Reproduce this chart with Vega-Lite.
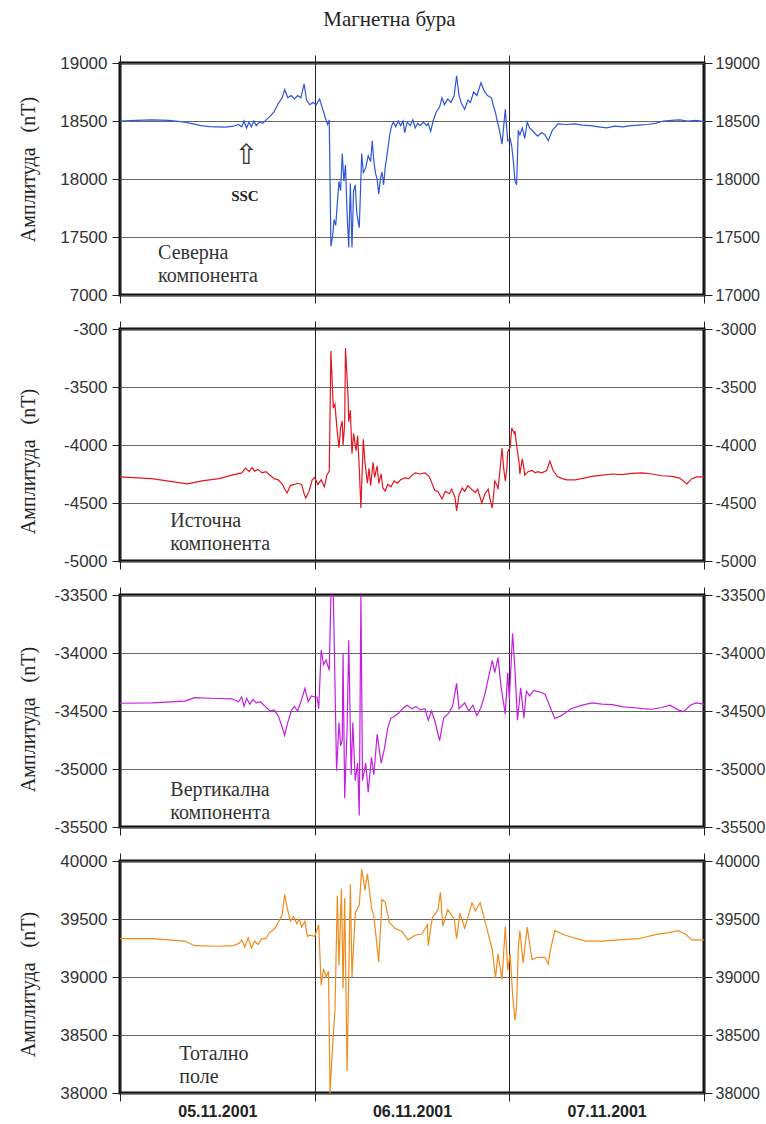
{
"$schema": "https://vega.github.io/schema/vega-lite/v6.json",
"autosize": {"type": "pad"},
"padding": {"left": 16, "top": 8, "right": 5, "bottom": 5},
"background": "white",
"title": {"text": "Магнетна бура", "font": "Liberation Serif", "fontSize": 21, "fontWeight": "normal", "color": "#222", "anchor": "middle", "dx": -2, "offset": 23, "limit": 0},
"bounds": "flush",
"spacing": 34,
"datasets": {
"n": [{"t":0,"v":18500},{"t":2,"v":18505},{"t":4,"v":18510},{"t":6,"v":18505},{"t":8,"v":18490},{"t":9,"v":18475},{"t":10,"v":18460},{"t":11,"v":18452},{"t":12,"v":18450},{"t":13,"v":18448},{"t":14,"v":18455},{"t":14.6,"v":18470},{"t":15,"v":18450},{"t":15.3,"v":18500},{"t":15.6,"v":18440},{"t":15.9,"v":18490},{"t":16.2,"v":18450},{"t":16.5,"v":18500},{"t":16.8,"v":18460},{"t":17.2,"v":18490},{"t":17.6,"v":18480},{"t":18,"v":18510},{"t":18.5,"v":18540},{"t":19,"v":18580},{"t":19.5,"v":18650},{"t":20,"v":18700},{"t":20.3,"v":18770},{"t":20.7,"v":18700},{"t":21.1,"v":18720},{"t":21.5,"v":18690},{"t":21.9,"v":18720},{"t":22.3,"v":18700},{"t":22.7,"v":18820},{"t":23,"v":18680},{"t":23.4,"v":18640},{"t":23.8,"v":18660},{"t":24.2,"v":18640},{"t":24.6,"v":18690},{"t":25,"v":18600},{"t":25.3,"v":18530},{"t":25.6,"v":18470},{"t":25.8,"v":18510},{"t":26,"v":17420},{"t":26.2,"v":17500},{"t":26.4,"v":17650},{"t":26.6,"v":17600},{"t":26.8,"v":17800},{"t":27,"v":17980},{"t":27.2,"v":17900},{"t":27.4,"v":18220},{"t":27.6,"v":17980},{"t":27.8,"v":18120},{"t":28,"v":17700},{"t":28.2,"v":17410},{"t":28.4,"v":17960},{"t":28.6,"v":17410},{"t":28.8,"v":17900},{"t":29,"v":17950},{"t":29.2,"v":17700},{"t":29.5,"v":17580},{"t":29.8,"v":18220},{"t":30,"v":18050},{"t":30.3,"v":18100},{"t":30.6,"v":18200},{"t":30.9,"v":18150},{"t":31.1,"v":18330},{"t":31.3,"v":18150},{"t":31.5,"v":18050},{"t":31.7,"v":18000},{"t":31.9,"v":17870},{"t":32.1,"v":18000},{"t":32.3,"v":18060},{"t":32.5,"v":17950},{"t":32.7,"v":18100},{"t":32.9,"v":18200},{"t":33.1,"v":18300},{"t":33.3,"v":18400},{"t":33.5,"v":18460},{"t":33.7,"v":18490},{"t":34,"v":18450},{"t":34.3,"v":18500},{"t":34.6,"v":18460},{"t":34.9,"v":18500},{"t":35.1,"v":18400},{"t":35.4,"v":18490},{"t":35.8,"v":18460},{"t":36.1,"v":18510},{"t":36.4,"v":18440},{"t":36.7,"v":18480},{"t":37,"v":18460},{"t":37.4,"v":18490},{"t":37.8,"v":18460},{"t":38,"v":18480},{"t":38.3,"v":18410},{"t":38.6,"v":18500},{"t":39,"v":18580},{"t":39.4,"v":18620},{"t":39.7,"v":18700},{"t":40,"v":18640},{"t":40.4,"v":18690},{"t":40.8,"v":18660},{"t":41.2,"v":18720},{"t":41.5,"v":18890},{"t":41.8,"v":18720},{"t":42.1,"v":18650},{"t":42.5,"v":18600},{"t":42.9,"v":18680},{"t":43.2,"v":18660},{"t":43.6,"v":18750},{"t":44,"v":18720},{"t":44.5,"v":18830},{"t":44.9,"v":18760},{"t":45.3,"v":18720},{"t":45.8,"v":18700},{"t":46,"v":18640},{"t":46.3,"v":18570},{"t":46.5,"v":18500},{"t":46.7,"v":18450},{"t":47.1,"v":18300},{"t":47.3,"v":18450},{"t":47.5,"v":18600},{"t":47.8,"v":18330},{"t":48.1,"v":18350},{"t":48.3,"v":18280},{"t":48.5,"v":18150},{"t":48.7,"v":17980},{"t":48.9,"v":17950},{"t":49.1,"v":18420},{"t":49.3,"v":18380},{"t":49.6,"v":18440},{"t":49.9,"v":18350},{"t":50.2,"v":18490},{"t":50.5,"v":18440},{"t":50.8,"v":18420},{"t":51.2,"v":18390},{"t":51.5,"v":18370},{"t":52,"v":18400},{"t":52.4,"v":18380},{"t":52.8,"v":18330},{"t":53.3,"v":18420},{"t":54,"v":18475},{"t":55,"v":18470},{"t":56,"v":18475},{"t":57,"v":18465},{"t":58,"v":18460},{"t":59,"v":18450},{"t":60,"v":18440},{"t":61,"v":18455},{"t":62,"v":18450},{"t":63,"v":18460},{"t":64,"v":18465},{"t":65,"v":18470},{"t":66,"v":18480},{"t":67,"v":18500},{"t":68,"v":18505},{"t":69,"v":18510},{"t":70,"v":18500},{"t":71,"v":18505},{"t":72,"v":18495}],
"e": [{"t":0,"v":-4275},{"t":3.9,"v":-4290},{"t":8.3,"v":-4335},{"t":10.1,"v":-4310},{"t":12.2,"v":-4290},{"t":13.8,"v":-4260},{"t":15,"v":-4240},{"t":15.5,"v":-4200},{"t":15.9,"v":-4230},{"t":16.3,"v":-4195},{"t":16.6,"v":-4225},{"t":17,"v":-4210},{"t":17.5,"v":-4240},{"t":18,"v":-4230},{"t":18.4,"v":-4255},{"t":19,"v":-4290},{"t":19.5,"v":-4300},{"t":20,"v":-4336},{"t":20.3,"v":-4380},{"t":20.6,"v":-4414},{"t":21,"v":-4350},{"t":21.5,"v":-4340},{"t":21.9,"v":-4330},{"t":22.4,"v":-4340},{"t":22.7,"v":-4420},{"t":22.9,"v":-4457},{"t":23.3,"v":-4400},{"t":23.7,"v":-4300},{"t":24,"v":-4280},{"t":24.4,"v":-4340},{"t":24.8,"v":-4300},{"t":25.2,"v":-4360},{"t":25.5,"v":-4260},{"t":25.8,"v":-4224},{"t":26,"v":-3190},{"t":26.3,"v":-3680},{"t":26.5,"v":-3650},{"t":26.8,"v":-3900},{"t":27,"v":-4024},{"t":27.2,"v":-3850},{"t":27.4,"v":-3793},{"t":27.5,"v":-4000},{"t":27.7,"v":-3820},{"t":27.8,"v":-3164},{"t":28.1,"v":-3560},{"t":28.2,"v":-3800},{"t":28.4,"v":-3700},{"t":28.6,"v":-4075},{"t":28.8,"v":-3900},{"t":29.1,"v":-4050},{"t":29.3,"v":-3920},{"t":29.5,"v":-4200},{"t":29.7,"v":-4543},{"t":30,"v":-3950},{"t":30.2,"v":-4150},{"t":30.5,"v":-4330},{"t":30.7,"v":-4200},{"t":30.9,"v":-4350},{"t":31.2,"v":-4150},{"t":31.4,"v":-4280},{"t":31.7,"v":-4180},{"t":31.9,"v":-4330},{"t":32.2,"v":-4250},{"t":32.4,"v":-4370},{"t":32.7,"v":-4396},{"t":33,"v":-4340},{"t":33.4,"v":-4360},{"t":33.8,"v":-4310},{"t":34.2,"v":-4330},{"t":34.6,"v":-4300},{"t":35.1,"v":-4284},{"t":35.6,"v":-4290},{"t":36,"v":-4260},{"t":36.4,"v":-4240},{"t":37,"v":-4250},{"t":37.6,"v":-4240},{"t":38.1,"v":-4270},{"t":38.5,"v":-4336},{"t":38.8,"v":-4390},{"t":39.2,"v":-4400},{"t":39.7,"v":-4465},{"t":40.1,"v":-4400},{"t":40.6,"v":-4420},{"t":40.9,"v":-4380},{"t":41.3,"v":-4450},{"t":41.5,"v":-4569},{"t":41.8,"v":-4430},{"t":42.2,"v":-4370},{"t":42.5,"v":-4400},{"t":42.9,"v":-4350},{"t":43.3,"v":-4380},{"t":43.8,"v":-4410},{"t":44.1,"v":-4380},{"t":44.6,"v":-4500},{"t":45,"v":-4420},{"t":45.4,"v":-4380},{"t":45.6,"v":-4460},{"t":45.9,"v":-4543},{"t":46.1,"v":-4400},{"t":46.2,"v":-4310},{"t":46.5,"v":-4350},{"t":46.6,"v":-4380},{"t":46.8,"v":-4250},{"t":47.1,"v":-4026},{"t":47.3,"v":-4200},{"t":47.5,"v":-4310},{"t":47.7,"v":-4200},{"t":47.8,"v":-4060},{"t":48.1,"v":-4020},{"t":48.3,"v":-3853},{"t":48.6,"v":-3900},{"t":48.7,"v":-3880},{"t":48.9,"v":-4000},{"t":49.2,"v":-4150},{"t":49.3,"v":-4250},{"t":49.6,"v":-4120},{"t":49.8,"v":-4200},{"t":49.9,"v":-4260},{"t":50.3,"v":-4230},{"t":50.8,"v":-4220},{"t":51.2,"v":-4240},{"t":51.5,"v":-4230},{"t":52,"v":-4240},{"t":52.6,"v":-4220},{"t":53,"v":-4138},{"t":53.4,"v":-4220},{"t":53.9,"v":-4270},{"t":54.5,"v":-4290},{"t":55.1,"v":-4300},{"t":56.1,"v":-4300},{"t":57.2,"v":-4285},{"t":58.2,"v":-4270},{"t":59.4,"v":-4260},{"t":60.7,"v":-4250},{"t":61.9,"v":-4255},{"t":63.1,"v":-4245},{"t":64.4,"v":-4240},{"t":65.6,"v":-4250},{"t":66.8,"v":-4265},{"t":68.1,"v":-4270},{"t":69,"v":-4285},{"t":69.9,"v":-4336},{"t":70.5,"v":-4290},{"t":71.1,"v":-4275},{"t":72,"v":-4275}],
"z": [{"t":0,"v":-34433},{"t":4,"v":-34430},{"t":8,"v":-34415},{"t":9.2,"v":-34385},{"t":11,"v":-34390},{"t":13.8,"v":-34395},{"t":14.6,"v":-34420},{"t":15,"v":-34380},{"t":15.3,"v":-34460},{"t":15.6,"v":-34390},{"t":16,"v":-34440},{"t":16.4,"v":-34400},{"t":16.8,"v":-34430},{"t":17.3,"v":-34420},{"t":17.9,"v":-34460},{"t":18.5,"v":-34500},{"t":19,"v":-34490},{"t":19.5,"v":-34540},{"t":20,"v":-34640},{"t":20.3,"v":-34710},{"t":20.6,"v":-34620},{"t":21.1,"v":-34500},{"t":21.5,"v":-34460},{"t":21.9,"v":-34500},{"t":22.4,"v":-34400},{"t":22.8,"v":-34305},{"t":23.2,"v":-34420},{"t":23.6,"v":-34370},{"t":24.1,"v":-34380},{"t":24.3,"v":-34380},{"t":24.5,"v":-34480},{"t":24.8,"v":-33976},{"t":25.1,"v":-34100},{"t":25.4,"v":-34060},{"t":25.8,"v":-34150},{"t":26,"v":-33500},{"t":26.3,"v":-33500},{"t":26.5,"v":-34250},{"t":26.7,"v":-35015},{"t":27,"v":-34600},{"t":27.2,"v":-34800},{"t":27.4,"v":-34750},{"t":27.5,"v":-34000},{"t":27.7,"v":-35250},{"t":28,"v":-34650},{"t":28.2,"v":-33890},{"t":28.5,"v":-35050},{"t":28.7,"v":-34600},{"t":29,"v":-35100},{"t":29.3,"v":-34950},{"t":29.5,"v":-35400},{"t":29.7,"v":-33500},{"t":29.9,"v":-35100},{"t":30.3,"v":-34950},{"t":30.6,"v":-35200},{"t":31,"v":-34900},{"t":31.3,"v":-35050},{"t":31.7,"v":-34700},{"t":32.2,"v":-34950},{"t":32.6,"v":-34825},{"t":33,"v":-34650},{"t":33.4,"v":-34560},{"t":33.8,"v":-34550},{"t":34.3,"v":-34520},{"t":35,"v":-34470},{"t":35.4,"v":-34450},{"t":36,"v":-34480},{"t":36.5,"v":-34460},{"t":37,"v":-34490},{"t":37.6,"v":-34480},{"t":38,"v":-34580},{"t":38.4,"v":-34500},{"t":38.8,"v":-34580},{"t":39.4,"v":-34755},{"t":39.9,"v":-34560},{"t":40.5,"v":-34520},{"t":41,"v":-34460},{"t":41.5,"v":-34262},{"t":41.8,"v":-34480},{"t":42.5,"v":-34430},{"t":43,"v":-34500},{"t":43.5,"v":-34450},{"t":44,"v":-34540},{"t":44.5,"v":-34470},{"t":45,"v":-34350},{"t":45.4,"v":-34220},{"t":45.9,"v":-34063},{"t":46.2,"v":-34170},{"t":46.6,"v":-34040},{"t":47,"v":-34300},{"t":47.5,"v":-34525},{"t":47.8,"v":-34170},{"t":48,"v":-34400},{"t":48.4,"v":-33830},{"t":48.7,"v":-34150},{"t":49,"v":-34580},{"t":49.4,"v":-34300},{"t":49.8,"v":-34560},{"t":50.1,"v":-34330},{"t":50.5,"v":-34370},{"t":51,"v":-34323},{"t":52,"v":-34340},{"t":52.4,"v":-34355},{"t":53,"v":-34460},{"t":53.6,"v":-34565},{"t":54.4,"v":-34540},{"t":55.6,"v":-34480},{"t":57,"v":-34450},{"t":58.2,"v":-34430},{"t":59.4,"v":-34440},{"t":60.7,"v":-34445},{"t":62,"v":-34465},{"t":63.2,"v":-34470},{"t":64.4,"v":-34480},{"t":65.6,"v":-34485},{"t":66.8,"v":-34470},{"t":67.8,"v":-34450},{"t":68.8,"v":-34490},{"t":69.5,"v":-34505},{"t":70.3,"v":-34450},{"t":71,"v":-34430},{"t":72,"v":-34440}],
"f": [{"t":0,"v":39330},{"t":4,"v":39330},{"t":8,"v":39310},{"t":9.2,"v":39270},{"t":12,"v":39265},{"t":14,"v":39270},{"t":14.7,"v":39290},{"t":15,"v":39320},{"t":15.4,"v":39260},{"t":15.8,"v":39340},{"t":16.2,"v":39250},{"t":16.6,"v":39310},{"t":17,"v":39280},{"t":17.5,"v":39330},{"t":18,"v":39330},{"t":18.4,"v":39383},{"t":18.8,"v":39400},{"t":19.1,"v":39420},{"t":19.5,"v":39470},{"t":20,"v":39539},{"t":20.3,"v":39713},{"t":20.6,"v":39600},{"t":21,"v":39480},{"t":21.4,"v":39520},{"t":21.8,"v":39460},{"t":22.1,"v":39500},{"t":22.4,"v":39430},{"t":22.8,"v":39480},{"t":23.1,"v":39350},{"t":23.4,"v":39360},{"t":24,"v":39350},{"t":24.5,"v":39450},{"t":24.8,"v":38930},{"t":25.1,"v":39070},{"t":25.4,"v":39000},{"t":25.7,"v":39050},{"t":25.9,"v":38000},{"t":26.2,"v":38400},{"t":26.5,"v":38713},{"t":26.8,"v":39700},{"t":27,"v":39100},{"t":27.3,"v":39760},{"t":27.5,"v":38900},{"t":27.7,"v":39680},{"t":28,"v":38190},{"t":28.4,"v":39800},{"t":28.6,"v":39000},{"t":29,"v":39550},{"t":29.5,"v":39620},{"t":29.8,"v":39930},{"t":30.2,"v":39750},{"t":30.5,"v":39890},{"t":31,"v":39600},{"t":31.3,"v":39520},{"t":31.9,"v":39130},{"t":32.3,"v":39670},{"t":32.7,"v":39643},{"t":33.2,"v":39470},{"t":33.9,"v":39420},{"t":34.8,"v":39390},{"t":35.5,"v":39320},{"t":36.4,"v":39360},{"t":37.2,"v":39370},{"t":37.9,"v":39450},{"t":38,"v":39270},{"t":38.5,"v":39510},{"t":39.2,"v":39580},{"t":39.5,"v":39730},{"t":39.8,"v":39440},{"t":40.4,"v":39580},{"t":41.2,"v":39500},{"t":41.5,"v":39330},{"t":41.9,"v":39550},{"t":42.5,"v":39420},{"t":43.4,"v":39640},{"t":43.8,"v":39570},{"t":44.4,"v":39640},{"t":45,"v":39480},{"t":45.9,"v":39235},{"t":46.3,"v":38990},{"t":46.6,"v":39200},{"t":47.1,"v":38980},{"t":47.5,"v":39435},{"t":47.8,"v":39060},{"t":48.1,"v":39200},{"t":48.4,"v":38850},{"t":48.7,"v":38626},{"t":48.9,"v":38750},{"t":49.1,"v":39240},{"t":49.3,"v":39400},{"t":49.7,"v":39120},{"t":50.2,"v":39430},{"t":50.8,"v":39150},{"t":51.5,"v":39170},{"t":52.4,"v":39170},{"t":52.8,"v":39110},{"t":53,"v":39210},{"t":53.6,"v":39400},{"t":54.9,"v":39360},{"t":57.4,"v":39310},{"t":59.5,"v":39310},{"t":61.4,"v":39320},{"t":63.9,"v":39330},{"t":66.3,"v":39370},{"t":67.5,"v":39380},{"t":68.8,"v":39400},{"t":69.7,"v":39370},{"t":70.5,"v":39320},{"t":72,"v":39320}]
},
"vconcat": [
{
"width": 584, "height": 232,
"layer": [
{"data": {"name": "n"},
 "mark": {"type": "line", "color": "#2e56d8", "strokeWidth": 1.2, "clip": true},
 "encoding": {
  "x": {"field": "t", "type": "quantitative", "scale": {"domain": [0, 72], "nice": false, "zero": false},
   "axis": {"orient": "bottom", "values": [0,12,24,36,48,60,72], "grid": true, "gridColor": "#222", "gridWidth": 1, "gridOpacity": {"condition": {"test": "datum.value % 24 != 0", "value": 0}, "value": 1}, "tickOpacity": {"condition": {"test": "datum.value % 24 != 0", "value": 0}, "value": 1}, "tickSize": 8, "labels": false, "title": null}},
  "y": {"field": "v", "type": "quantitative", "scale": {"domain": [17000, 19000], "nice": false, "zero": false},
   "axis": {"orient": "left", "values": [17000,17500,18000,18500,19000], "labelExpr": "datum.value == 17000 ? '7000' : '' + datum.value", "grid": true, "gridColor": "#555", "gridWidth": 0.9, "tickSize": 8, "labelPadding": 5, "title": "Амплитуда\u00a0\u00a0\u00a0(nT)", "titleFont": "Liberation Serif", "titleFontSize": 20, "titleFontWeight": "normal", "titleColor": "#222", "titleAngle": 270, "titleX": -92, "titleY": 106, "titleAlign": "center", "titleBaseline": "middle"}}
 }},
{"data": {"values": [{}]},
 "mark": {"type": "text", "text": ["Северна", "компонента"], "font": "Liberation Serif", "fontSize": 20, "letterSpacing": 2, "lineHeight": 23, "align": "left", "baseline": "middle", "color": "#333"},
 "encoding": {
  "x": {"datum": 4.7, "type": "quantitative", "axis": {"orient": "top", "values": [0,24,48,72], "grid": false, "labels": false, "tickSize": 8, "title": null}},
  "y": {"datum": 17362, "type": "quantitative", "axis": {"orient": "right", "values": [17000,17500,18000,18500,19000], "labelExpr": "'' + datum.value", "labelFontSize": 16, "grid": false, "tickSize": 8, "labelPadding": 3, "title": null}}
 }},
{"data": {"values": [{}]},
 "mark": {"type": "text", "text": "⇧", "font": "DejaVu Sans", "fontSize": 28, "align": "center", "baseline": "middle", "color": "#333"},
 "encoding": {"x": {"datum": 15.55, "type": "quantitative", "axis": null}, "y": {"datum": 18198, "type": "quantitative", "axis": null}}},
{"data": {"values": [{}]},
 "mark": {"type": "text", "text": "SSC", "font": "Liberation Serif", "fontSize": 15, "fontWeight": "bold", "align": "center", "baseline": "middle", "color": "#222"},
 "encoding": {"x": {"datum": 15.4, "type": "quantitative", "axis": null}, "y": {"datum": 17854, "type": "quantitative", "axis": null}}}
],
"resolve": {"axis": {"x": "independent", "y": "independent"}}
},
{
"width": 584, "height": 232,
"layer": [
{"data": {"name": "e"},
 "mark": {"type": "line", "color": "#e3171f", "strokeWidth": 1.2, "clip": true},
 "encoding": {
  "x": {"field": "t", "type": "quantitative", "scale": {"domain": [0, 72], "nice": false, "zero": false},
   "axis": {"orient": "bottom", "values": [0,12,24,36,48,60,72], "grid": true, "gridColor": "#222", "gridWidth": 1, "gridOpacity": {"condition": {"test": "datum.value % 24 != 0", "value": 0}, "value": 1}, "tickOpacity": {"condition": {"test": "datum.value % 24 != 0", "value": 0}, "value": 1}, "tickSize": 8, "labels": false, "title": null}},
  "y": {"field": "v", "type": "quantitative", "scale": {"domain": [-5000, -3000], "nice": false, "zero": false},
   "axis": {"orient": "left", "values": [-5000,-4500,-4000,-3500,-3000], "labelExpr": "datum.value == -3000 ? '-300' : '' + datum.value", "grid": true, "gridColor": "#555", "gridWidth": 0.9, "tickSize": 8, "labelPadding": 5, "title": "Амплитуда\u00a0\u00a0\u00a0(nT)", "titleFont": "Liberation Serif", "titleFontSize": 20, "titleFontWeight": "normal", "titleColor": "#222", "titleAngle": 270, "titleX": -92, "titleY": 132, "titleAlign": "center", "titleBaseline": "middle"}}
 }},
{"data": {"values": [{}]},
 "mark": {"type": "text", "text": ["Источна", "компонента"], "font": "Liberation Serif", "fontSize": 20, "letterSpacing": 2, "lineHeight": 23, "align": "left", "baseline": "middle", "color": "#333"},
 "encoding": {
  "x": {"datum": 6.2, "type": "quantitative", "axis": {"orient": "top", "values": [0,24,48,72], "grid": false, "labels": false, "tickSize": 8, "title": null}},
  "y": {"datum": -4655, "type": "quantitative", "axis": {"orient": "right", "values": [-5000,-4500,-4000,-3500,-3000], "labelExpr": "'' + datum.value", "labelFontSize": 16, "grid": false, "tickSize": 8, "labelPadding": 3, "title": null}}
 }}
],
"resolve": {"axis": {"x": "independent", "y": "independent"}}
},
{
"width": 584, "height": 232,
"layer": [
{"data": {"name": "z"},
 "mark": {"type": "line", "color": "#c41fe0", "strokeWidth": 1.2, "clip": true},
 "encoding": {
  "x": {"field": "t", "type": "quantitative", "scale": {"domain": [0, 72], "nice": false, "zero": false},
   "axis": {"orient": "bottom", "values": [0,12,24,36,48,60,72], "grid": true, "gridColor": "#222", "gridWidth": 1, "gridOpacity": {"condition": {"test": "datum.value % 24 != 0", "value": 0}, "value": 1}, "tickOpacity": {"condition": {"test": "datum.value % 24 != 0", "value": 0}, "value": 1}, "tickSize": 8, "labels": false, "title": null}},
  "y": {"field": "v", "type": "quantitative", "scale": {"domain": [-35500, -33500], "nice": false, "zero": false},
   "axis": {"orient": "left", "values": [-35500,-35000,-34500,-34000,-33500], "labelExpr": "'' + datum.value", "grid": true, "gridColor": "#555", "gridWidth": 0.9, "tickSize": 8, "labelPadding": 5, "title": "Амплитуда\u00a0\u00a0\u00a0(nT)", "titleFont": "Liberation Serif", "titleFontSize": 20, "titleFontWeight": "normal", "titleColor": "#222", "titleAngle": 270, "titleX": -92, "titleY": 124, "titleAlign": "center", "titleBaseline": "middle"}}
 }},
{"data": {"values": [{}]},
 "mark": {"type": "text", "text": ["Вертикална", "компонента"], "font": "Liberation Serif", "fontSize": 20, "letterSpacing": 2, "lineHeight": 23, "align": "left", "baseline": "middle", "color": "#333"},
 "encoding": {
  "x": {"datum": 6.2, "type": "quantitative", "axis": {"orient": "top", "values": [0,24,48,72], "grid": false, "labels": false, "tickSize": 8, "title": null}},
  "y": {"datum": -35180, "type": "quantitative", "axis": {"orient": "right", "values": [-35500,-35000,-34500,-34000,-33500], "labelExpr": "'' + datum.value", "labelFontSize": 16, "grid": false, "tickSize": 8, "labelPadding": 3, "title": null}}
 }}
],
"resolve": {"axis": {"x": "independent", "y": "independent"}}
},
{
"width": 584, "height": 232,
"layer": [
{"data": {"name": "f"},
 "mark": {"type": "line", "color": "#f08c1c", "strokeWidth": 1.2, "clip": true},
 "encoding": {
  "x": {"field": "t", "type": "quantitative", "scale": {"domain": [0, 72], "nice": false, "zero": false},
   "axis": {"orient": "bottom", "values": [0,12,24,36,48,60,72], "grid": true, "gridColor": "#222", "gridWidth": 1, "gridOpacity": {"condition": {"test": "datum.value % 24 != 0", "value": 0}, "value": 1}, "tickOpacity": {"condition": {"test": "datum.value % 24 != 0", "value": 0}, "value": 1}, "tickSize": 8, "labels": true, "labelExpr": "datum.value == 12 ? '05.11.2001' : datum.value == 36 ? '06.11.2001' : datum.value == 60 ? '07.11.2001' : ''", "labelFont": "Liberation Sans", "labelFontWeight": "bold", "labelFontSize": 16, "labelColor": "#222", "labelPadding": 2, "title": null}},
  "y": {"field": "v", "type": "quantitative", "scale": {"domain": [38000, 40000], "nice": false, "zero": false},
   "axis": {"orient": "left", "values": [38000,38500,39000,39500,40000], "labelExpr": "'' + datum.value", "grid": true, "gridColor": "#555", "gridWidth": 0.9, "tickSize": 8, "labelPadding": 5, "title": "Амплитуда\u00a0\u00a0\u00a0(nT)", "titleFont": "Liberation Serif", "titleFontSize": 20, "titleFontWeight": "normal", "titleColor": "#222", "titleAngle": 270, "titleX": -92, "titleY": 123, "titleAlign": "center", "titleBaseline": "middle"}}
 }},
{"data": {"values": [{}]},
 "mark": {"type": "text", "text": ["Тотално", "поле"], "font": "Liberation Serif", "fontSize": 20, "letterSpacing": 2, "lineHeight": 23, "align": "left", "baseline": "middle", "color": "#333"},
 "encoding": {
  "x": {"datum": 7.3, "type": "quantitative", "axis": {"orient": "top", "values": [0,24,48,72], "grid": false, "labels": false, "tickSize": 8, "title": null}},
  "y": {"datum": 38339, "type": "quantitative", "axis": {"orient": "right", "values": [38000,38500,39000,39500,40000], "labelExpr": "'' + datum.value", "labelFontSize": 16, "grid": false, "tickSize": 8, "labelPadding": 3, "title": null}}
 }}
],
"resolve": {"axis": {"x": "independent", "y": "independent"}}
}
],
"config": {
 "view": {"stroke": "#111", "strokeWidth": 3},
 "axis": {"domain": false, "labelFont": "Liberation Sans", "labelFontSize": 17, "labelColor": "#333", "tickColor": "#222", "tickWidth": 1}
}
}
